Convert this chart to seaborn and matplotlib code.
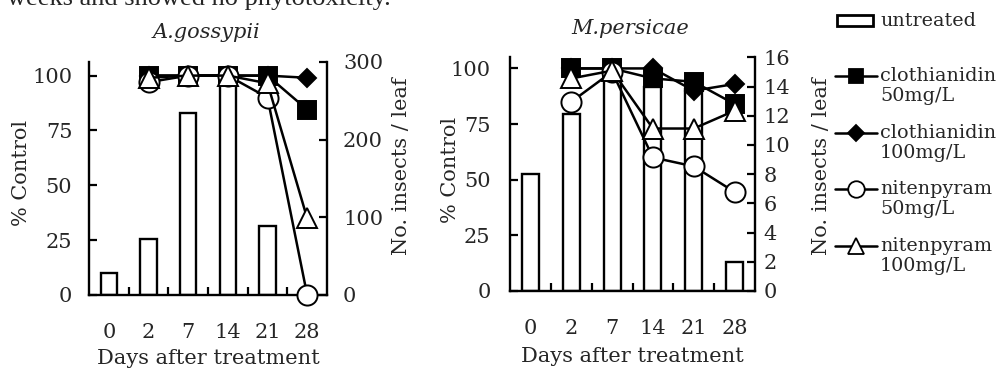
import numpy as np
import matplotlib
matplotlib.use("Agg")
import matplotlib.pyplot as plt
from matplotlib.lines import Line2D
from matplotlib.patches import Rectangle
import seaborn as sns

sns.set_theme(style="ticks")
plt.rcParams["font.family"] = ["DejaVu Serif"]
plt.rcParams["mathtext.fontset"] = "dejavuserif"

nan = np.nan

# Days after treatment (categories)
days = ["0", "2", "7", "14", "21", "28"]

# A. gossypii: insects per leaf on untreated plants, % control per treatment
ag_untreated = [28, 72, 234, 270, 89, 0]
ag_clo50 = [nan, 100, 100, 100, 100, 84.5]
ag_clo100 = [nan, 100, 100, 100, 100, 99]
ag_nit50 = [nan, 97, 100, 100, 90, 0]
ag_nit100 = [nan, 99, 100, 100, 96.5, 35]

# M. persicae
mp_untreated = [8.0, 12.1, 14.5, 14.0, 13.8, 2.0]
mp_clo50 = [nan, 100, 100, 95.5, 94, 84]
mp_clo100 = [nan, 100, 100, 100, 90, 93]
mp_nit50 = [nan, 85, 98.5, 60, 56, 44.5]
mp_nit100 = [nan, 95.5, 99, 73, 73, 81]

series_labels = ["clothianidin\n50mg/L", "clothianidin\n100mg/L",
                 "nitenpyram\n50mg/L", "nitenpyram\n100mg/L"]
series_style = [
    dict(marker="s", markerfacecolor="black", markersize=13),
    dict(marker="D", markerfacecolor="black", markersize=9.5),
    dict(marker="o", markerfacecolor="white", markersize=14.5),
    dict(marker="^", markerfacecolor="white", markersize=14),
]

FS = 15
LEG_FS = 13.8
LW = 1.8

fig = plt.figure(figsize=(10.02, 3.70), dpi=100)
W, H = 1002.0, 370.0


def panel(box, title, untreated, lines, left_max, right_max, right_ticks,
          lpad, rpad, title_xy, ylab_xy, rlab_xy, xlab_y):
    x0, top, x1, bottom = box
    ax = fig.add_axes([x0 / W, 1 - bottom / H, (x1 - x0) / W, (bottom - top) / H])
    ax2 = ax.twinx()
    pos = np.arange(len(days))
    aw, ah = x1 - x0, bottom - top

    sns.barplot(x=days, y=untreated, order=days, ax=ax2, color="white",
                edgecolor="black", linewidth=1.7, width=0.42, saturation=1)
    for p in ax2.patches:
        p.set_facecolor("white")

    for vals, st in zip(lines, series_style):
        sns.lineplot(x=pos, y=vals, ax=ax, color="black", lw=LW,
                     markeredgecolor="black", markeredgewidth=1.4,
                     clip_on=False, zorder=3, **st)

    ax.set_zorder(ax2.get_zorder() + 1)
    ax.patch.set_visible(False)

    ax.set_xlim(-0.5, 5.5)
    ax.set_ylim(0, left_max)
    ax2.set_ylim(0, right_max)

    ax.set_xticks(pos)
    ax.set_xticklabels(days)
    ax.set_xticks(pos[:-1] + 0.5, minor=True)
    ax.tick_params(axis="x", which="major", length=0, pad=20, labelsize=FS)
    ax.tick_params(axis="x", which="minor", direction="in", length=6,
                   width=1.6, color="black")
    ax.set_yticks([0, 25, 50, 75, 100])
    ax.tick_params(axis="y", direction="in", length=6, width=1.6,
                   color="black", pad=lpad, labelsize=FS)
    ax2.set_yticks(right_ticks)
    ax2.tick_params(axis="y", direction="in", length=6, width=1.6,
                    color="black", pad=rpad, labelsize=FS)

    for s in ["top", "right"]:
        ax.spines[s].set_visible(False)
    for s in ["top", "left", "bottom"]:
        ax2.spines[s].set_visible(False)
    for s in ["left", "bottom"]:
        ax.spines[s].set_linewidth(1.7)
        ax.spines[s].set_color("black")
    ax2.spines["right"].set_linewidth(1.7)
    ax2.spines["right"].set_color("black")

    ax.set_xlabel("Days after treatment", fontsize=FS, va="center")
    ax.xaxis.set_label_coords(0.5, -(xlab_y - bottom) / ah)
    ax.set_ylabel("% Control", fontsize=FS, va="center")
    ax.yaxis.set_label_coords((ylab_xy[0] - x0) / aw, (bottom - ylab_xy[1]) / ah)
    ax2.set_ylabel("No. insects / leaf", fontsize=FS, rotation=90, va="center")
    ax2.yaxis.set_label_coords((rlab_xy[0] - x0) / aw, (bottom - rlab_xy[1]) / ah)
    ax.text((title_xy[0] - x0) / aw, (bottom - title_xy[1]) / ah, title,
            transform=ax.transAxes, fontsize=FS, style="italic",
            ha="center", va="center")
    ax.grid(False)
    ax2.grid(False)
    return ax, ax2


panel((89, 62, 327, 295), "A.gossypii", ag_untreated,
      [ag_clo50, ag_clo100, ag_nit50, ag_nit100], 106.2, 300,
      [0, 100, 200, 300], 12, 11.5, (206, 32), (22, 173), (402, 166), 358)
panel((510, 57.3, 755, 291), "M.persicae", mp_untreated,
      [mp_clo50, mp_clo100, mp_nit50, mp_nit100], 105, 16,
      list(range(0, 17, 2)), 14, 6, (630, 28), (450, 170), (822, 166), 357)


# Legend, laid out in figure pixels from the top-left corner
def fx(px):
    return px / W


def fy(py):
    return 1 - py / H


fig.add_artist(Rectangle((fx(837), fy(26)), fx(873) - fx(837), fy(15) - fy(26),
                         transform=fig.transFigure, facecolor="white",
                         edgecolor="black", linewidth=2.0))
fig.text(fx(880), fy(21), "untreated", fontsize=LEG_FS, ha="left", va="center")

legend_rows = [76, 133, 189, 246]
for row, st, lab in zip(legend_rows, series_style, series_labels):
    fig.add_artist(Line2D([fx(835), fx(856), fx(877)], [fy(row)] * 3,
                          transform=fig.transFigure, color="black", lw=LW,
                          markevery=[1], markeredgecolor="black",
                          markeredgewidth=1.3,
                          **{**st, "markersize": st["markersize"] * 0.82}))
    first, second = lab.split("\n")
    fig.text(fx(880), fy(row), first, fontsize=LEG_FS, ha="left", va="center")
    fig.text(fx(880), fy(row + 20), second, fontsize=LEG_FS, ha="left",
             va="center")

# Running text from the page above the figure
fig.text(fx(7), fy(5), "weeks and showed no phytotoxicity.",
         fontsize=19, family=["Liberation Serif"], va="baseline", ha="left")

fig.savefig("out.png", dpi=100)
